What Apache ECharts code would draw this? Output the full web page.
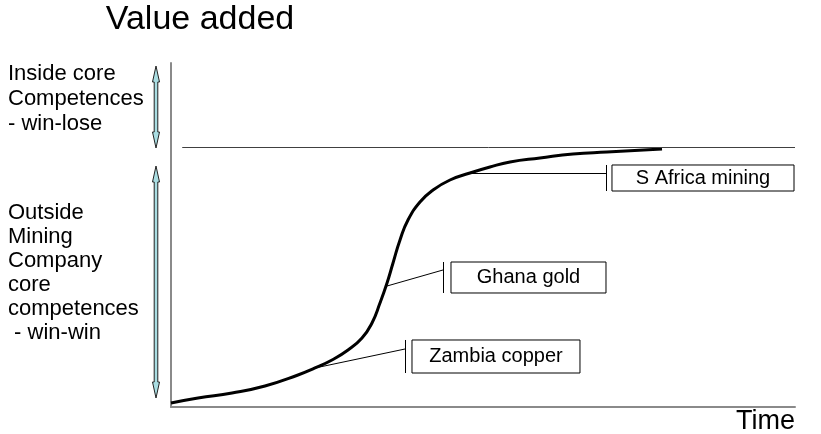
<!DOCTYPE html>
<html>
<head>
<meta charset="utf-8">
<script src="https://cdn.jsdelivr.net/npm/echarts@6/dist/echarts.min.js"></script>
<style>
  html, body { margin: 0; padding: 0; background: #fff; }
  #chart { width: 821px; height: 434px; }
</style>
</head>
<body>
<div id="chart"></div>
<script>
/* S-curve: time (0-100) against value added (0-100) */
var timeX = [0, 4.33, 9.78, 15.06, 20.35, 23.08, 25.8, 28.37, 30.61, 32.21, 33.49, 34.62,
  35.58, 36.7, 37.98, 39.9, 41.99, 44.71, 47.92, 51.12, 54.33, 59.13, 64.42, 69.87, 78.69];
var valueY = [1.16, 2.62, 4.07, 6.10, 9.30, 11.34, 13.66, 16.57, 20.06, 24.42, 30.23, 36.05,
  41.86, 48.55, 54.36, 59.59, 63.08, 65.99, 68.02, 69.77, 71.22, 72.38, 73.55, 74.13, 75.0];

/* ceiling between inside / outside core competences */
var limitY = 75.6;
var limitX = [1.8, 100];

/* callouts: where the leader leaves the curve, where it hits the bar, box extents */
var calloutNames = ["Zambia copper", "Ghana gold", "S Africa mining"];
var calloutFrom = [[23.08, 11.34], [34.62, 35.17], [47.92, 68.02]];
var calloutTo = [[37.5, 16.86], [43.59, 39.83], [69.71, 68.02]];
var calloutBarY = [[9.88, 19.48], [33.14, 42.15], [62.79, 70.35]];
var calloutBoxX = [[38.62, 65.54], [44.87, 69.71], [70.67, 99.84]];

var FONT = "'Liberation Sans', Arial, sans-serif";

var curve = [];
for (var i = 0; i < timeX.length; i++) { curve.push([timeX[i], valueY[i]]); }

var lines = [[
  { coord: [limitX[0], limitY], lineStyle: { color: "#404040", width: 1 } },
  { coord: [limitX[1], limitY] }
]];
var boxes = [];
for (var k = 0; k < calloutNames.length; k++) {
  lines.push([{ coord: calloutFrom[k] }, { coord: calloutTo[k] }]);
  lines.push([{ coord: [calloutTo[k][0], calloutBarY[k][0]] }, { coord: [calloutTo[k][0], calloutBarY[k][1]] }]);
  boxes.push([
    { name: calloutNames[k], coord: [calloutBoxX[k][0], calloutBarY[k][1]] },
    { coord: [calloutBoxX[k][1], calloutBarY[k][0]] }
  ]);
}

/* thin double-headed arrow in the left margin */
function arrow(xc, y1, y2) {
  var hl = 16, hw = 3.5, sw = 1.8;
  return {
    type: "polygon",
    shape: { points: [
      [xc, y1], [xc + hw, y1 + hl], [xc + sw, y1 + hl], [xc + sw, y2 - hl], [xc + hw, y2 - hl],
      [xc, y2], [xc - hw, y2 - hl], [xc - sw, y2 - hl], [xc - sw, y1 + hl], [xc - hw, y1 + hl]
    ] },
    style: { fill: "#a9dde2", stroke: "#222", lineWidth: 1 }
  };
}

function label(x, y, text, size, align, lh) {
  return {
    type: "text", x: x, y: y,
    style: {
      text: text, fill: "#000", fontSize: size, fontFamily: FONT,
      textAlign: align || "left", textVerticalAlign: "top", lineHeight: lh || size
    }
  };
}

var chart = echarts.init(document.getElementById("chart"));
chart.setOption({
  animation: false,
  grid: { left: 171, right: 26, top: 63, bottom: 27 },
  xAxis: {
    type: "value", min: 0, max: 100,
    axisLine: { lineStyle: { color: "#8a8a8a", width: 2 } },
    axisTick: { show: false }, axisLabel: { show: false }, splitLine: { show: false }
  },
  yAxis: {
    type: "value", min: 0, max: 100,
    axisLine: { show: true, lineStyle: { color: "#8a8a8a", width: 2 } },
    axisTick: { show: false }, axisLabel: { show: false }, splitLine: { show: false }
  },
  graphic: [
    label(200, 3, "Value added", 34, "center"),
    label(795, 408, "Time", 27, "right"),
    label(8, 61, "Inside core\nCompetences\n- win-lose", 22, "left", 25),
    label(8, 201, "Outside\nMining\nCompany\ncore\ncompetences\n - win-win", 22, "left", 24),
    arrow(156, 66, 148),
    arrow(156, 166, 398)
  ],
  series: [{
    type: "line",
    data: curve,
    smooth: true,
    symbol: "none",
    silent: true,
    lineStyle: { color: "#000", width: 3 },
    markLine: {
      silent: true,
      symbol: "none",
      label: { show: false },
      lineStyle: { color: "#000", width: 1, type: "solid" },
      data: lines
    },
    markArea: {
      silent: true,
      itemStyle: { color: "#fff", borderColor: "#000", borderWidth: 1 },
      label: { show: true, position: "inside", color: "#000", fontSize: 20, fontFamily: FONT },
      data: boxes
    }
  }]
});
</script>
</body>
</html>
